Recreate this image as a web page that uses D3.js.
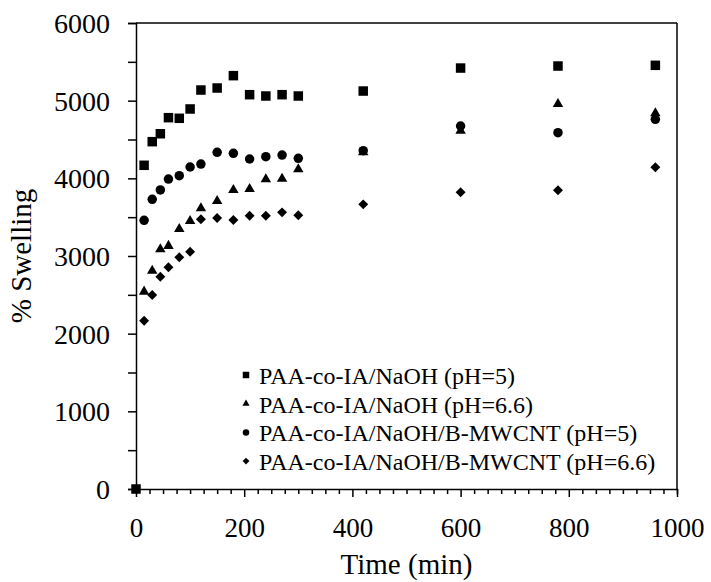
<!DOCTYPE html>
<html>
<head>
<meta charset="utf-8">
<script src="https://cdn.jsdelivr.net/npm/d3@7"></script>
<style>
  body { margin: 0; background: #fff; }
  text { font-family: "Liberation Serif", "Times New Roman", serif; fill: #000; }
</style>
</head>
<body>
<div id="chart"></div>
<script>
// time points (min)
const times = [0, 15, 30, 45, 60, 80, 100, 120, 150, 180, 210, 240, 270, 300, 420, 600, 780, 960]

// % swelling per series (null = no point)
const naohPh5 = [0, 4168, 4472, 4574, 4781, 4773, 4893, 5137, 5163, 5322, 5077, 5060, 5077, 5060, 5124, 5420, 5446, 5455]
const naohPh66 = [null, 2541, 2811, 3086, 3130, 3347, 3450, 3614, 3708, 3850, 3862, 3987, 3995, 4116, 4335, 4613, 4957, 4837]
const cntPh5 = [null, 3459, 3730, 3850, 3991, 4034, 4146, 4184, 4335, 4322, 4249, 4279, 4300, 4258, 4356, 4674, 4588, 4760]
const cntPh66 = [null, 2167, 2498, 2734, 2854, 2983, 3055, 3472, 3489, 3463, 3519, 3519, 3562, 3524, 3665, 3820, 3846, 4142]

const seriesNames = [
    "PAA-co-IA/NaOH (pH=5)",
    "PAA-co-IA/NaOH (pH=6.6)",
    "PAA-co-IA/NaOH/B-MWCNT (pH=5)",
    "PAA-co-IA/NaOH/B-MWCNT (pH=6.6)"
]
const seriesValues = [naohPh5, naohPh66, cntPh5, cntPh66]
const seriesShapes = ["square", "triangle", "circle", "diamond"]

const xTicks = [0, 200, 400, 600, 800, 1000]
const yTicks = [0, 1000, 2000, 3000, 4000, 5000, 6000]

const width = 711
const height = 582
const margin = { top: 23, right: 34, bottom: 93, left: 136 }
const innerW = width - margin.left - margin.right
const innerH = height - margin.top - margin.bottom

const svg = d3.select("#chart")
    .append("svg")
    .attr("width", width)
    .attr("height", height)
    .style("background-color", "#fff")

const g = svg.append("g")
    .attr("transform", `translate(${margin.left},${margin.top})`)

const x = d3.scaleLinear().domain([0, 1000]).range([0, innerW])
const y = d3.scaleLinear().domain([0, 6000]).range([innerH, 0])

// frame: top and right
g.append("line").attr("x1", 0).attr("x2", innerW).attr("y1", 0).attr("y2", 0)
    .attr("stroke", "#000").attr("stroke-width", 1.5)
g.append("line").attr("x1", innerW).attr("x2", innerW).attr("y1", 0).attr("y2", innerH)
    .attr("stroke", "#000").attr("stroke-width", 1.5)

// y axis, ticks every 500, labels every 1000
const yAxis = g.append("g")
    .call(d3.axisLeft(y)
        .tickValues(d3.range(0, 6001, 500))
        .tickSize(8)
        .tickFormat(d => yTicks.includes(d) ? d : ""))
yAxis.select(".domain").attr("stroke-width", 1.5)
yAxis.selectAll(".tick line").attr("stroke-width", 1.5)
yAxis.selectAll(".tick text")
    .attr("x", -26)
    .attr("dy", "0.34em")
    .style("font-size", "28px")
    .style("font-family", "Liberation Serif")

// x axis, minor ticks every 25, major every 200
const xAxis = g.append("g")
    .attr("transform", `translate(0,${innerH})`)
    .call(d3.axisBottom(x)
        .tickValues(d3.range(0, 1001, 25))
        .tickSize(5)
        .tickFormat(d => xTicks.includes(d) ? d : ""))
xAxis.select(".domain").attr("stroke-width", 1.5)
xAxis.selectAll(".tick line")
    .attr("stroke-width", 1.5)
    .attr("y2", d => xTicks.includes(d) ? 8 : 5)
xAxis.selectAll(".tick text")
    .attr("y", 0)
    .attr("dy", 48)
    .style("font-size", "27px")
    .style("font-family", "Liberation Serif")

// axis titles
svg.append("text")
    .attr("x", margin.left + innerW / 2)
    .attr("y", 574)
    .attr("text-anchor", "middle")
    .style("font-size", "29px")
    .text("Time (min)")

svg.append("text")
    .attr("transform", `translate(31,${margin.top + innerH / 2}) rotate(-90)`)
    .attr("text-anchor", "middle")
    .style("font-size", "29px")
    .text("% Swelling")

// marker path helper
function markerPath(shape, s) {
    if (shape === "square") return d3.symbol(d3.symbolSquare, s * s)()
    if (shape === "circle") return d3.symbol(d3.symbolCircle, Math.PI * (s / 2) * (s / 2))()
    if (shape === "triangle") return d3.symbol(d3.symbolTriangle, Math.sqrt(3) / 4 * (s * 1.1) * (s * 1.1))()
    return d3.symbol(d3.symbolSquare, (s * 0.74) * (s * 0.74))()
}

seriesValues.forEach((vals, i) => {
    const shape = seriesShapes[i]
    const pts = times.map((t, j) => ({ t: t, v: vals[j] })).filter(d => d.v !== null)
    g.append("g").selectAll("path")
        .data(pts)
        .enter()
        .append("path")
        .attr("d", markerPath(shape, 9.5))
        .attr("transform", d => `translate(${x(d.t)},${y(d.v)})` + (shape === "diamond" ? " rotate(45)" : ""))
        .attr("fill", "#000")
})

// legend
const legend = svg.append("g").attr("transform", "translate(246,375)")
seriesNames.forEach((name, i) => {
    const row = legend.append("g").attr("transform", `translate(0,${i * 28.7})`)
    const shape = seriesShapes[i]
    row.append("path")
        .attr("d", markerPath(shape, 6.5))
        .attr("transform", shape === "diamond" ? "rotate(45)" : null)
        .attr("fill", "#000")
    row.append("text")
        .attr("x", 13)
        .attr("y", 9)
        .style("font-size", "24px")
        .text(name)
})
</script>
</body>
</html>
